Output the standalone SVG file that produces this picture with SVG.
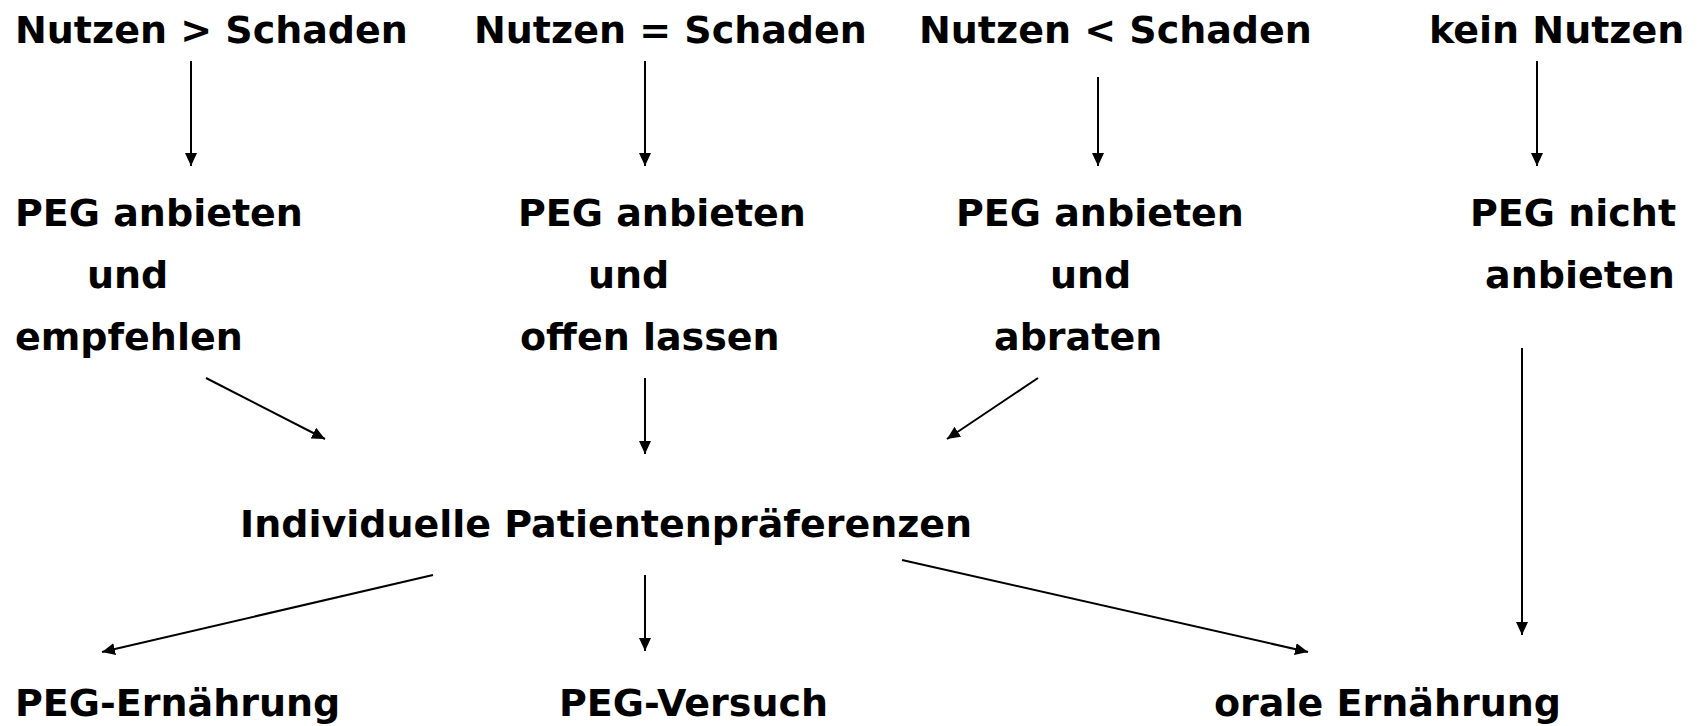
<svg xmlns="http://www.w3.org/2000/svg" width="1700" height="726" viewBox="0 0 1700 726">
<style>
text{font-family:"DejaVu Sans","Verdana",sans-serif;font-weight:bold;font-size:38px;fill:#000}
.c line{stroke:#000;stroke-width:2;marker-end:url(#ah)}
</style>
<defs>
<marker id="ah" markerUnits="userSpaceOnUse" markerWidth="14" markerHeight="12" refX="13" refY="6" orient="auto">
<path d="M0,0 L13,6 L0,12 z" fill="#000"/>
</marker>
</defs>
<rect width="1700" height="726" fill="#fff"/>
<g id="n1"><text x="15" y="43">Nutzen &gt; Schaden</text></g>
<g id="n2"><text x="474" y="43">Nutzen = Schaden</text></g>
<g id="n3"><text x="919" y="43">Nutzen &lt; Schaden</text></g>
<g id="n4"><text x="1429" y="43">kein Nutzen</text></g>
<g id="m1"><text x="15" y="226">PEG anbieten</text><text x="87" y="288">und</text><text x="15" y="350">empfehlen</text></g>
<g id="m2"><text x="518" y="226">PEG anbieten</text><text x="588" y="288">und</text><text x="520" y="350">offen lassen</text></g>
<g id="m3"><text x="956" y="226">PEG anbieten</text><text x="1050" y="288">und</text><text x="994" y="350">abraten</text></g>
<g id="m4"><text x="1470" y="226">PEG nicht</text><text x="1485" y="288">anbieten</text></g>
<g id="p"><text x="240" y="537">Individuelle Patientenpräferenzen</text></g>
<g id="o1"><text x="15" y="716">PEG-Ernährung</text></g>
<g id="o2"><text x="559" y="716">PEG-Versuch</text></g>
<g id="o3"><text x="1214" y="716">orale Ernährung</text></g>
<g class="c" id="connectors">
<line x1="191" y1="61" x2="191" y2="166"/>
<line x1="645" y1="61" x2="645" y2="166"/>
<line x1="1098" y1="77" x2="1098" y2="166"/>
<line x1="1537" y1="61" x2="1537" y2="166"/>
<line x1="206" y1="378" x2="325" y2="439"/>
<line x1="645" y1="378" x2="645" y2="454"/>
<line x1="1038" y1="378" x2="947" y2="439"/>
<line x1="433" y1="575" x2="102" y2="652"/>
<line x1="645" y1="575" x2="645" y2="651"/>
<line x1="902" y1="560" x2="1308" y2="652"/>
<line x1="1522" y1="348" x2="1522" y2="635"/>
</g>
</svg>
